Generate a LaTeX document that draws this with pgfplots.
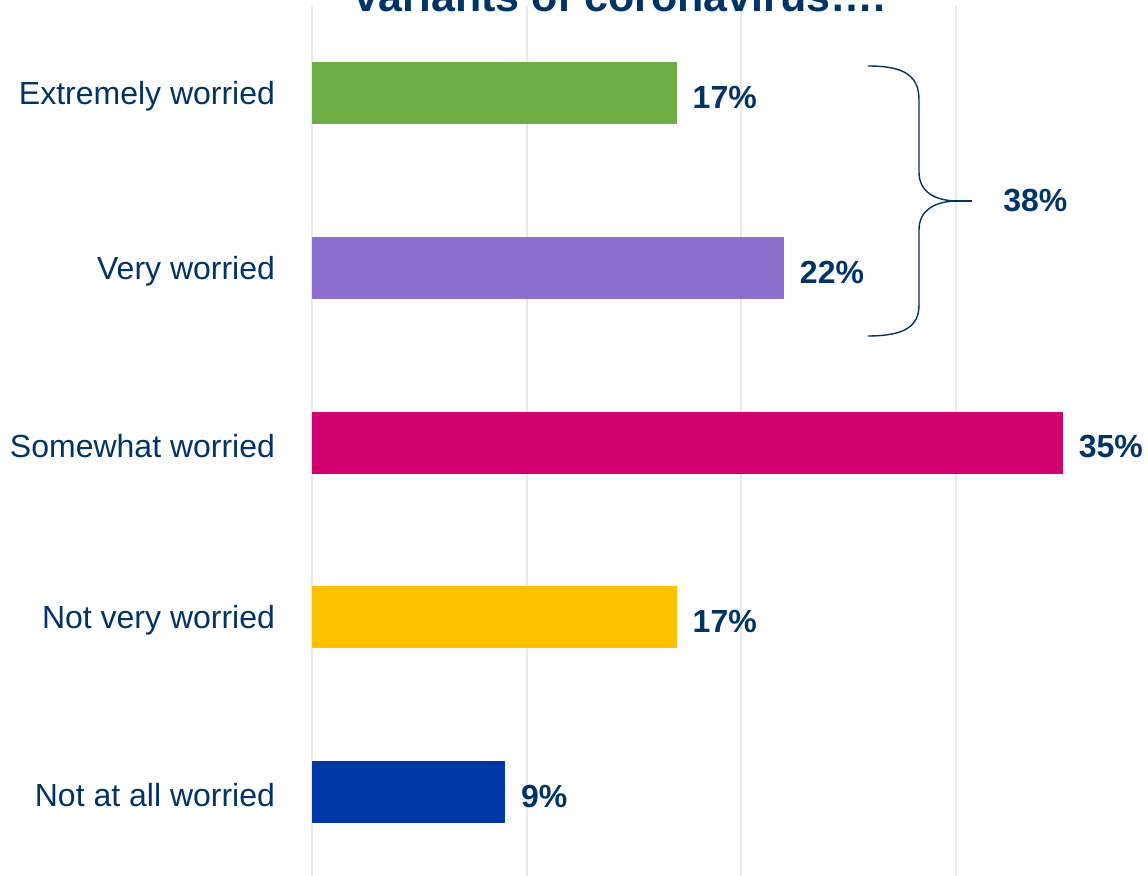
\documentclass[border=0pt]{standalone}
\usepackage{pgfplots}
\pgfplotsset{compat=1.18}
\usepackage{fontspec}
\setmainfont{Liberation Sans}
\definecolor{navy}{RGB}{0,51,102}
\definecolor{gridgray}{RGB}{232,232,232}
\definecolor{cgreen}{RGB}{112,173,71}
\definecolor{cpurple}{RGB}{142,111,208}
\definecolor{cmagenta}{RGB}{208,0,111}
\definecolor{cyellow}{RGB}{255,192,0}
\definecolor{cblue}{RGB}{0,57,166}
\begin{document}
\begin{tikzpicture}
\begin{axis}[
  at={(0,0)}, anchor=north west,
  scale only axis, width=418.3pt, height=435pt,
  xbar, bar width=0.355, bar shift=0pt,
  xmin=0, xmax=39, ymin=-0.5, ymax=4.48, y dir=reverse,
  ytick={0,1,2,3,4},
  yticklabels={Extremely worried, Very worried, Somewhat worried, Not very worried, Not at all worried},
  xtick={0,10,20,30}, xticklabels={},
  xmajorgrids, major grid style={draw=gridgray, line width=1pt},
  axis line style={draw=none}, tick style={draw=none},
  yticklabel style={font=\fontsize{16}{19}\selectfont, text=navy, xshift=-10.7pt, yshift=-1.5pt},
  point meta=x,
  nodes near coords={\pgfmathprintnumber[assume math mode=true]{\pgfplotspointmeta}\%},
  every node near coord/.append style={font=\bfseries\fontsize{16}{19}\selectfont, text=navy, xshift=4.5pt, yshift=-2pt},
  clip=false,
]
\addplot[fill=cgreen, draw=none] coordinates {(17,0)};
\addplot[fill=cpurple, draw=none] coordinates {(22,1)};
\addplot[fill=cmagenta, draw=none] coordinates {(35,2)};
\addplot[fill=cyellow, draw=none] coordinates {(17,3)};
\addplot[fill=cblue, draw=none] coordinates {(9,4)};
\end{axis}
\begin{scope}[x=0.5pt,y=-0.5pt,shift={(-312,-6)}]
\draw[navy, line width=0.7pt] (868,66) .. controls (905,66) and (919,76) .. (919,100) -- (919,172) .. controls (919,192) and (935,201) .. (958,201) .. controls (935,201) and (919,210) .. (919,230) -- (919,305) .. controls (919,326) and (905,336) .. (868,336);
\draw[navy, line width=1pt] (955,201) -- (972,201);
\node[anchor=west, inner sep=0pt, font=\bfseries\fontsize{16}{19}\selectfont, text=navy] at (1003,201) {38\%};
\node[anchor=base, inner sep=0pt, font=\bfseries\fontsize{21.5}{26}\selectfont, text=navy] at (620,12) {variants of coronavirus….};
\pgfresetboundingbox
\path[use as bounding box] (0,0) rectangle (1148,876);
\end{scope}
\end{tikzpicture}
\end{document}
